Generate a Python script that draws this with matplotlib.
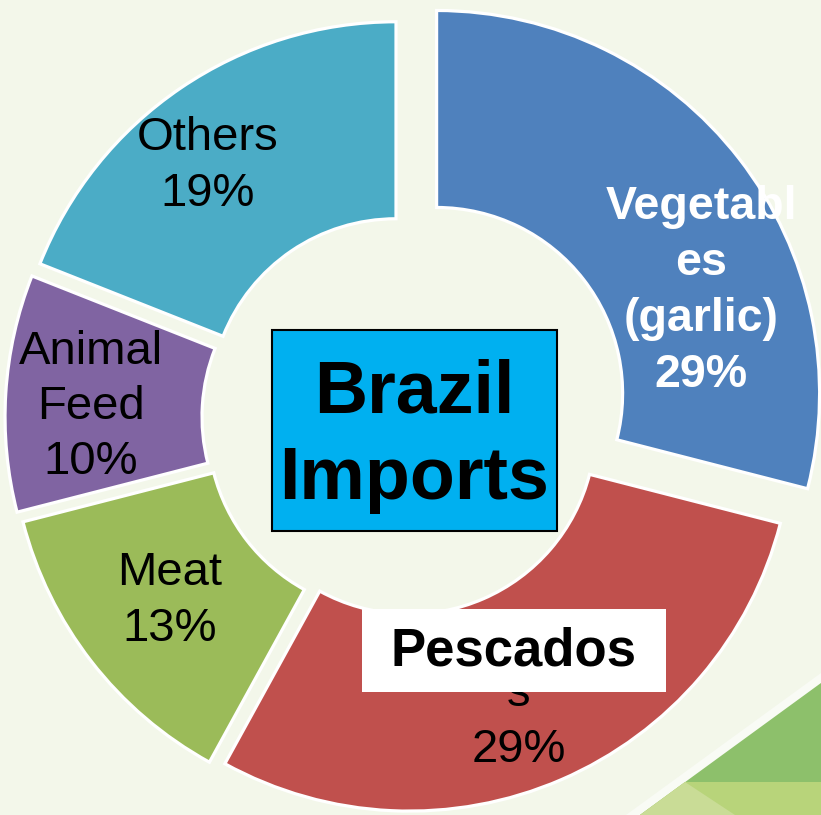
import matplotlib
matplotlib.use("Agg")
import matplotlib.pyplot as plt
from matplotlib.patches import Rectangle, Polygon

# ---- data ----
categories = ["Vegetables (garlic)", "Pescados", "Meat", "Animal Feed", "Others"]
values = [29, 29, 13, 10, 19]
wrapped_labels = ["Vegetabl\nes\n(garlic)", "Pescado\ns", "Meat", "Animal\nFeed", "Others"]
center_title = "Brazil\nImports"
overlay_label = "Pescados"

# ---- style ----
colors = ["#4F81BD", "#C0504D", "#9BBB59", "#8064A2", "#4BACC6"]
explode = [40, 11, 14, 17, 16]          # pixel offsets
label_pos = [(701, 291), (519, 694), (170, 601), (91, 407), (208, 166)]   # pixel coords (y down)
label_color = ["white", "black", "black", "black", "black"]
label_weight = ["bold", "normal", "normal", "normal", "normal"]
label_size = [33.5, 34, 34, 34, 34]
label_spacing = [1.35, 1.36, 1.36, 1.31, 1.36]
BG = "#F3F7EA"
W, H = 821, 815
FONT = "Liberation Sans"

fig = plt.figure(figsize=(W / 100, H / 100), dpi=100, facecolor=BG)
ax = fig.add_axes([0, 0, 1, 1])
ax.set_facecolor(BG)

def py(y):
    return H - y

# background decoration (bottom-right green triangles)
ax.add_patch(Polygon([(626, py(815)), (821, py(673)), (821, py(683)), (640, py(815))],
                     closed=True, facecolor="#F9FBF5", edgecolor="none", zorder=0))
ax.add_patch(Polygon([(640, py(815)), (821, py(683)), (821, py(815))],
                     closed=True, facecolor="#8DC06B", edgecolor="none", zorder=0))
ax.add_patch(Polygon([(685, py(782)), (821, py(782)), (821, py(815)), (640, py(815))],
                     closed=True, facecolor="#B8D47A", edgecolor="none", zorder=0))
ax.add_patch(Polygon([(685, py(782)), (735, py(815)), (640, py(815))],
                     closed=True, facecolor="#C9DC96", edgecolor="none", zorder=0))

R = 383
ring = 197
wedges, _ = ax.pie(values, colors=colors, explode=explode, startangle=90,
                   counterclock=False, radius=R, center=(405, py(418)),
                   wedgeprops=dict(width=ring, edgecolor="white", linewidth=2.3),
                   frame=True)
ax.set_xlim(0, W)
ax.set_ylim(0, H)
ax.set_aspect("equal")
ax.axis("off")

for lab, v, (x, y), c, wt, fs, ls in zip(wrapped_labels, values, label_pos, label_color,
                                          label_weight, label_size, label_spacing):
    ax.text(x, py(y), f"{lab}\n{v}%", ha="center", va="center", multialignment="center",
            color=c, fontweight=wt, fontsize=fs, family=FONT, linespacing=ls, zorder=3)

# white box covering the fish label
ax.add_patch(Rectangle((362, py(692)), 304, 83, facecolor="white", edgecolor="none", zorder=4))
ax.text(514, py(652), overlay_label, ha="center", va="center", fontsize=38,
        fontweight="bold", family=FONT, color="black", zorder=5)

# center title box
ax.add_patch(Rectangle((272, py(531)), 285, 201, facecolor="#00B0F0", edgecolor="black",
                       linewidth=1.5, zorder=4))
ax.text(414, py(436), center_title, ha="center", va="center", multialignment="center",
        fontsize=53, fontweight="bold", family=FONT, color="black", linespacing=1.32, zorder=5)

fig.savefig("out.png", dpi=100, facecolor=BG)
